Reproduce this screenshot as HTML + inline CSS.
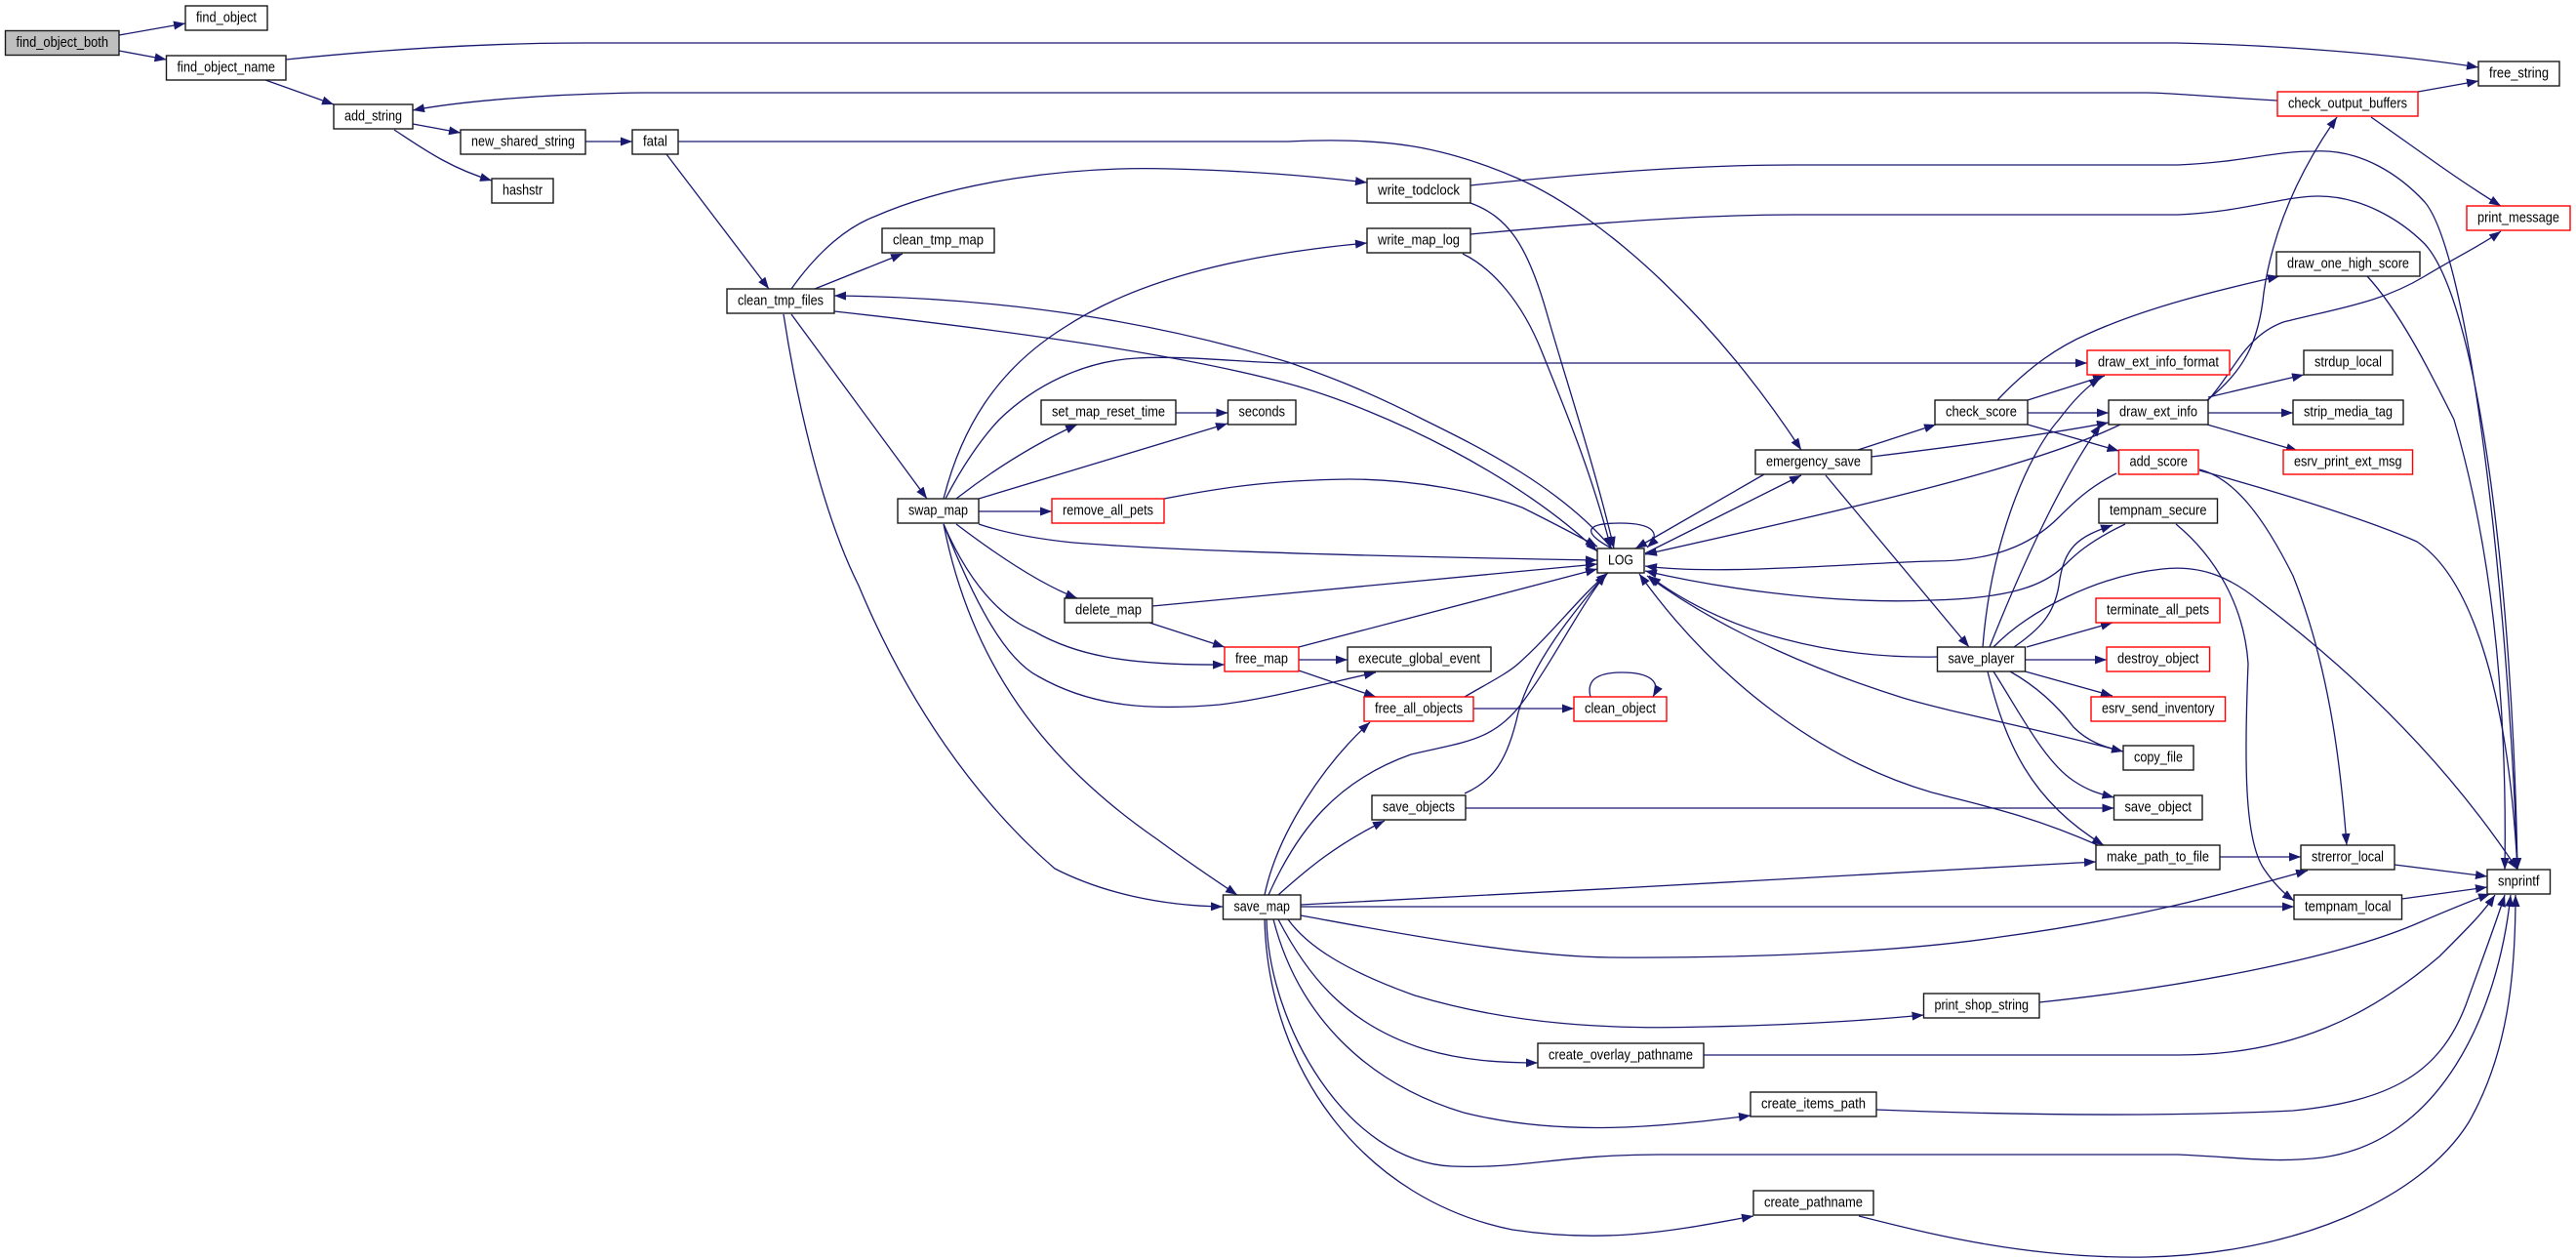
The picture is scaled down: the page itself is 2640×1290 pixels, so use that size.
<!DOCTYPE html>
<html>
<head>
<meta charset="utf-8">
<style>
html,body{margin:0;padding:0;background:#fff;}
svg{display:block;}
.n{fill:#fff;stroke:#1a1a1a;stroke-width:1.4;}
.r{fill:#fff;stroke:#ff0000;stroke-width:1.4;}
.g{fill:#bfbfbf;stroke:#1a1a1a;stroke-width:1.4;}
.t{font-family:"Liberation Sans",Arial,sans-serif;font-size:15px;fill:#000;text-anchor:middle;}
.e{fill:none;stroke:#191970;stroke-width:1.3;}
</style>
</head>
<body>
<svg width="2640" height="1290" viewBox="0 0 2640 1290" xmlns="http://www.w3.org/2000/svg">
<defs>
<marker id="a" markerUnits="userSpaceOnUse" markerWidth="13" markerHeight="10" refX="12" refY="4.5" orient="auto">
<path d="M0,0 L12,4.5 L0,9 z" fill="#191970"/>
</marker>
</defs>
<rect x="0" y="0" width="2640" height="1290" fill="#fff"/>

<g class="e" marker-end="url(#a)">
<path d="M122,36 L190,24"/>
<path d="M122,52 L170.5,61"/>
<path d="M293,61 C400,50 500,44 600,44 L2230,44 C2330,46 2450,55 2540,69"/>
<path d="M2334,103 C2250,98 2220,95 2200,95 L660,95 C560,96 470,104 423,113"/>
<path d="M2478,94 L2540,83"/>
<path d="M2430,120 C2480,155 2520,185 2563,211"/>
<path d="M272,82 L342,107"/>
<path d="M423,127 L472,136"/>
<path d="M404,133 C430,150 460,172 504,185"/>
<path d="M600,145 L648,145"/>
<path d="M695,145 L1320,145 C1420,140 1480,150 1556,183 C1650,225 1760,330 1846,461"/>
<path d="M683,158 L788,296"/>
<path d="M835,296 L925,260"/>
<path d="M811,296 C840,255 870,232 896,222 C980,185 1100,170 1200,173 C1280,175 1340,180 1401,187"/>
<path d="M1507,190 C1650,175 1750,169 1838,169 L2232,169 C2300,166 2330,155 2371,155 C2420,152 2460,180 2485,207 C2530,260 2570,600 2580,891"/>
<path d="M1507,240 C1650,227 1750,220 1838,220 L2232,220 C2300,217 2340,201 2376,201 C2420,201 2460,225 2485,250 C2540,310 2575,600 2580,891"/>
<path d="M1507,208 C1545,222 1565,250 1585,320 C1605,390 1635,480 1654,562"/>
<path d="M1499,260 C1530,275 1560,310 1580,360 C1600,410 1630,480 1651,562"/>
<path d="M1652,562 C1600,500 1520,460 1459,430 C1400,400 1360,385 1320,371 C1200,335 1050,305 855,303"/>
<path d="M855,319 C1000,335 1200,360 1320,393 C1420,420 1560,490 1637,565"/>
<path d="M967,511 C985,440 1020,380 1090,336 C1160,290 1260,262 1401,249"/>
<path d="M969,511 C985,480 1005,450 1024,430 C1060,395 1110,370 1165,367 C1220,364 1280,372 1320,372 L2139,372"/>
<path d="M980,511 C1020,480 1060,455 1104,435"/>
<path d="M1003,511 L1258,434"/>
<path d="M1205,423 L1258.5,423"/>
<path d="M1003,524 L1078,524"/>
<path d="M1193,511 C1250,500 1300,492 1383,491 C1450,491 1520,505 1560,520 C1590,535 1615,548 1637,560"/>
<path d="M1003,537 C1030,546 1060,552 1100,556 C1200,564 1400,570 1637,574"/>
<path d="M980,537 C1030,575 1070,600 1104,613"/>
<path d="M1181,621 L1637,578"/>
<path d="M1178,638 L1255,663"/>
<path d="M967,537 C990,590 1020,630 1060,647 C1100,670 1150,682 1255,681"/>
<path d="M967,537 C1000,620 1030,675 1064,693 C1120,725 1180,728 1250,722 C1300,716 1360,700 1410,689"/>
<path d="M967,537 C995,680 1070,780 1186,860 C1220,885 1250,905 1268,917"/>
<path d="M811,322 L950,511"/>
<path d="M803,322 C815,400 840,520 880,600 C930,720 1000,820 1081,890 C1130,915 1190,928 1253,929"/>
<path d="M1331,676 L1381,676"/>
<path d="M1331,687 L1410,714"/>
<path d="M1331,663 L1637,583"/>
<path d="M1510,726 L1613,726"/>
<path d="M1630,714 C1625,695 1640,689 1662,689 C1690,689 1703,698 1694,714"/>
<path d="M1501,714 C1525,700 1545,690 1556,680 C1590,650 1620,610 1648,587"/>
<path d="M1502,828 L2166.5,828"/>
<path d="M1501,813 C1530,800 1545,780 1556,730 C1570,680 1610,630 1646,588"/>
<path d="M1310,917 C1340,890 1370,865 1419,841"/>
<path d="M1300,917 C1330,850 1370,800 1446,773 C1500,760 1530,760 1560,720 C1590,680 1620,620 1646,588"/>
<path d="M1296,917 C1310,850 1360,780 1404,740"/>
<path d="M1808,486 L1676,562"/>
<path d="M1686,567 L1846,487"/>
<path d="M1904,461 L1984,435"/>
<path d="M1918,468 C2000,458 2100,445 2161,433"/>
<path d="M2173,435 C2080,480 1900,520 1686,568"/>
<path d="M1871,487 L2018,663"/>
<path d="M2047,410 C2080,375 2110,355 2140,342 C2200,315 2270,298 2336,283"/>
<path d="M2078,410 L2157,385"/>
<path d="M2078,423 L2161,423"/>
<path d="M2078,435 L2171.5,462"/>
<path d="M2262,410 C2300,380 2315,350 2320,300 C2330,230 2360,170 2395,120"/>
<path d="M2263,410 C2290,380 2300,345 2340,330 C2400,315 2440,310 2485,283 C2520,262 2545,250 2563,237"/>
<path d="M2263,407 L2361,384"/>
<path d="M2263,423 L2350,423"/>
<path d="M2262,435 L2355,462"/>
<path d="M2426,283 C2460,320 2490,380 2515,430 C2550,550 2570,700 2567,891"/>
<path d="M2032,663 C2040,560 2075,470 2110,430 C2125,410 2140,395 2153,387"/>
<path d="M2039,663 C2080,560 2120,480 2153,435"/>
<path d="M2064,663 C2090,645 2105,630 2110,600 C2115,560 2130,550 2165,538"/>
<path d="M2178,537 C2140,555 2125,570 2115,580 C2095,600 2060,613 1980,615 C1870,620 1750,600 1686,585"/>
<path d="M2169,485 C2140,500 2125,515 2110,530 C2080,560 2040,575 1980,575 C1900,577 1760,590 1686,580"/>
<path d="M1985.5,673 C1880,675 1770,650 1690,590"/>
<path d="M2176,770 C2080,745 2000,730 1950,715 C1870,690 1770,650 1688,590"/>
<path d="M2150,866 C2080,835 2030,825 1980,812 C1870,780 1760,700 1680,588"/>
<path d="M2077,663 L2165,638"/>
<path d="M2075.5,676 L2159,676"/>
<path d="M2075.5,688 L2165,713"/>
<path d="M2060,688 C2090,705 2110,725 2125,745 C2140,760 2155,765 2176,770"/>
<path d="M2043,688 C2070,730 2095,780 2125,800 C2140,810 2150,813 2166.5,817"/>
<path d="M2037,688 C2055,760 2080,820 2156,866"/>
<path d="M2043,663 C2080,625 2150,590 2216,583 C2260,578 2290,595 2317,617 C2400,680 2500,770 2580,891"/>
<path d="M2254,481 C2290,490 2320,530 2350,590 C2390,690 2400,800 2405,866"/>
<path d="M2254,482 C2320,500 2420,530 2477,555 C2530,590 2570,700 2580,891"/>
<path d="M2230,537 C2270,570 2300,620 2304,680 C2300,780 2300,860 2320,890 C2330,905 2340,915 2351,923"/>
<path d="M1333,927 C1600,915 1900,895 2148,883"/>
<path d="M2275,878 L2358,878"/>
<path d="M2454,886 L2549,898"/>
<path d="M2461.5,921 L2549,909"/>
<path d="M1333,929 L2351,929"/>
<path d="M1333,938 C1400,950 1550,980 1650,981 C1800,982 1950,975 2050,960 C2200,940 2300,910 2365,892"/>
<path d="M1320,942 C1340,970 1380,995 1450,1020 C1550,1050 1650,1055 1750,1052 C1850,1050 1920,1045 1971.5,1040"/>
<path d="M2090,1027 C2250,1010 2400,980 2480,945 C2520,928 2540,920 2552,916"/>
<path d="M1310,942 C1340,1000 1380,1050 1460,1075 C1500,1087 1540,1089 1576,1089"/>
<path d="M1746,1081 L2232,1081 C2350,1081 2430,1040 2500,980 C2530,950 2545,935 2557,917"/>
<path d="M1305,942 C1330,1040 1400,1110 1500,1140 C1600,1165 1700,1155 1794,1143"/>
<path d="M1923,1137 C2050,1142 2200,1145 2350,1138 C2450,1128 2500,1100 2527,1030 C2545,980 2560,940 2567,917"/>
<path d="M1298,942 C1300,1050 1380,1190 1488,1195 C1560,1198 1600,1183 1700,1183 L2232,1183 C2300,1186 2330,1192 2380,1186 C2500,1170 2560,1040 2573,917"/>
<path d="M1296,942 C1300,1100 1400,1230 1550,1260 C1650,1275 1720,1260 1797,1246"/>
<path d="M1905,1246 C1980,1265 2080,1290 2200,1288 C2350,1285 2480,1230 2530,1150 C2570,1080 2578,1000 2578,917"/>
<path d="M1652,562 C1620,545 1625,536 1660,536 C1697,536 1702,548 1688,561"/>
</g>

<g>
<rect class="g" x="5.5" y="31.5" width="116.5" height="25"/><text class="t" x="63.75" y="47.8" textLength="94.5" lengthAdjust="spacingAndGlyphs">find_object_both</text>
<rect class="n" x="190" y="6" width="84" height="25"/><text class="t" x="232" y="22.3" textLength="62" lengthAdjust="spacingAndGlyphs">find_object</text>
<rect class="n" x="170.5" y="57" width="122.5" height="25"/><text class="t" x="231.75" y="73.3" textLength="100.5" lengthAdjust="spacingAndGlyphs">find_object_name</text>
<rect class="n" x="342" y="107" width="81" height="25"/><text class="t" x="382.5" y="123.3" textLength="59" lengthAdjust="spacingAndGlyphs">add_string</text>
<rect class="n" x="472" y="133" width="128" height="25"/><text class="t" x="536" y="149.3" textLength="106" lengthAdjust="spacingAndGlyphs">new_shared_string</text>
<rect class="n" x="504" y="183" width="63" height="25"/><text class="t" x="535.5" y="199.3" textLength="41" lengthAdjust="spacingAndGlyphs">hashstr</text>
<rect class="n" x="648" y="133" width="47" height="25"/><text class="t" x="671.5" y="149.3" textLength="25" lengthAdjust="spacingAndGlyphs">fatal</text>
<rect class="n" x="2540" y="63" width="83" height="25"/><text class="t" x="2581.5" y="79.3" textLength="61" lengthAdjust="spacingAndGlyphs">free_string</text>
<rect class="r" x="2334" y="94" width="144" height="25"/><text class="t" x="2406" y="110.3" textLength="122" lengthAdjust="spacingAndGlyphs">check_output_buffers</text>
<rect class="r" x="2528" y="211" width="106" height="25"/><text class="t" x="2581" y="227.3" textLength="84" lengthAdjust="spacingAndGlyphs">print_message</text>
<rect class="n" x="745" y="296" width="110" height="25"/><text class="t" x="800" y="312.3" textLength="88" lengthAdjust="spacingAndGlyphs">clean_tmp_files</text>
<rect class="n" x="904" y="234" width="115" height="25"/><text class="t" x="961.5" y="250.3" textLength="93" lengthAdjust="spacingAndGlyphs">clean_tmp_map</text>
<rect class="n" x="1401" y="183" width="106" height="25"/><text class="t" x="1454" y="199.3" textLength="84" lengthAdjust="spacingAndGlyphs">write_todclock</text>
<rect class="n" x="1401" y="234" width="106" height="25"/><text class="t" x="1454" y="250.3" textLength="84" lengthAdjust="spacingAndGlyphs">write_map_log</text>
<rect class="n" x="2333" y="258" width="147" height="25"/><text class="t" x="2406.5" y="274.3" textLength="125" lengthAdjust="spacingAndGlyphs">draw_one_high_score</text>
<rect class="r" x="2139" y="359" width="146" height="25"/><text class="t" x="2212" y="375.3" textLength="124" lengthAdjust="spacingAndGlyphs">draw_ext_info_format</text>
<rect class="n" x="2361" y="359" width="91" height="25"/><text class="t" x="2406.5" y="375.3" textLength="69" lengthAdjust="spacingAndGlyphs">strdup_local</text>
<rect class="n" x="1067" y="410" width="138" height="25"/><text class="t" x="1136" y="426.3" textLength="116" lengthAdjust="spacingAndGlyphs">set_map_reset_time</text>
<rect class="n" x="1258.5" y="410" width="69.5" height="25"/><text class="t" x="1293.25" y="426.3" textLength="47.5" lengthAdjust="spacingAndGlyphs">seconds</text>
<rect class="n" x="1983" y="410" width="95" height="25"/><text class="t" x="2030.5" y="426.3" textLength="73" lengthAdjust="spacingAndGlyphs">check_score</text>
<rect class="n" x="2161" y="410" width="102" height="25"/><text class="t" x="2212" y="426.3" textLength="80" lengthAdjust="spacingAndGlyphs">draw_ext_info</text>
<rect class="n" x="2350" y="410" width="113" height="25"/><text class="t" x="2406.5" y="426.3" textLength="91" lengthAdjust="spacingAndGlyphs">strip_media_tag</text>
<rect class="n" x="1799" y="461" width="119" height="25"/><text class="t" x="1858.5" y="477.3" textLength="97" lengthAdjust="spacingAndGlyphs">emergency_save</text>
<rect class="r" x="2171.5" y="461" width="81.5" height="25"/><text class="t" x="2212.25" y="477.3" textLength="59.5" lengthAdjust="spacingAndGlyphs">add_score</text>
<rect class="r" x="2340" y="461" width="132.5" height="25"/><text class="t" x="2406.25" y="477.3" textLength="110.5" lengthAdjust="spacingAndGlyphs">esrv_print_ext_msg</text>
<rect class="n" x="920" y="511" width="83" height="25"/><text class="t" x="961.5" y="527.3" textLength="61" lengthAdjust="spacingAndGlyphs">swap_map</text>
<rect class="r" x="1078" y="511" width="115" height="25"/><text class="t" x="1135.5" y="527.3" textLength="93" lengthAdjust="spacingAndGlyphs">remove_all_pets</text>
<rect class="n" x="2151" y="511" width="121.5" height="25"/><text class="t" x="2211.75" y="527.3" textLength="99.5" lengthAdjust="spacingAndGlyphs">tempnam_secure</text>
<rect class="n" x="1637" y="562" width="48" height="25"/><text class="t" x="1661" y="578.3" textLength="26" lengthAdjust="spacingAndGlyphs">LOG</text>
<rect class="n" x="1091" y="613" width="90" height="25"/><text class="t" x="1136" y="629.3" textLength="68" lengthAdjust="spacingAndGlyphs">delete_map</text>
<rect class="r" x="2148" y="613" width="127" height="25"/><text class="t" x="2211.5" y="629.3" textLength="105" lengthAdjust="spacingAndGlyphs">terminate_all_pets</text>
<rect class="r" x="1255" y="663" width="76" height="25"/><text class="t" x="1293" y="679.3" textLength="54" lengthAdjust="spacingAndGlyphs">free_map</text>
<rect class="n" x="1381" y="663" width="147" height="25"/><text class="t" x="1454.5" y="679.3" textLength="125" lengthAdjust="spacingAndGlyphs">execute_global_event</text>
<rect class="n" x="1985.5" y="663" width="90" height="25"/><text class="t" x="2030.5" y="679.3" textLength="68" lengthAdjust="spacingAndGlyphs">save_player</text>
<rect class="r" x="2159" y="663" width="105.5" height="25"/><text class="t" x="2211.75" y="679.3" textLength="83.5" lengthAdjust="spacingAndGlyphs">destroy_object</text>
<rect class="r" x="1398" y="714" width="112" height="25"/><text class="t" x="1454" y="730.3" textLength="90" lengthAdjust="spacingAndGlyphs">free_all_objects</text>
<rect class="r" x="1613" y="714" width="95" height="25"/><text class="t" x="1660.5" y="730.3" textLength="73" lengthAdjust="spacingAndGlyphs">clean_object</text>
<rect class="r" x="2143" y="714" width="137.5" height="25"/><text class="t" x="2211.75" y="730.3" textLength="115.5" lengthAdjust="spacingAndGlyphs">esrv_send_inventory</text>
<rect class="n" x="2176" y="764" width="72" height="25"/><text class="t" x="2212" y="780.3" textLength="50" lengthAdjust="spacingAndGlyphs">copy_file</text>
<rect class="n" x="1406" y="815" width="96" height="25"/><text class="t" x="1454" y="831.3" textLength="74" lengthAdjust="spacingAndGlyphs">save_objects</text>
<rect class="n" x="2166.5" y="815" width="90.5" height="25"/><text class="t" x="2211.75" y="831.3" textLength="68.5" lengthAdjust="spacingAndGlyphs">save_object</text>
<rect class="n" x="2148" y="866" width="127" height="25"/><text class="t" x="2211.5" y="882.3" textLength="105" lengthAdjust="spacingAndGlyphs">make_path_to_file</text>
<rect class="n" x="2358" y="866" width="96" height="25"/><text class="t" x="2406" y="882.3" textLength="74" lengthAdjust="spacingAndGlyphs">strerror_local</text>
<rect class="n" x="2549" y="891" width="64.5" height="25"/><text class="t" x="2581.25" y="907.3" textLength="42.5" lengthAdjust="spacingAndGlyphs">snprintf</text>
<rect class="n" x="1253.5" y="917" width="79.5" height="25"/><text class="t" x="1293.25" y="933.3" textLength="57.5" lengthAdjust="spacingAndGlyphs">save_map</text>
<rect class="n" x="2351" y="917" width="110.5" height="25"/><text class="t" x="2406.25" y="933.3" textLength="88.5" lengthAdjust="spacingAndGlyphs">tempnam_local</text>
<rect class="n" x="1971.5" y="1018" width="118.5" height="25"/><text class="t" x="2030.75" y="1034.3" textLength="96.5" lengthAdjust="spacingAndGlyphs">print_shop_string</text>
<rect class="n" x="1576" y="1069" width="170" height="25"/><text class="t" x="1661" y="1085.3" textLength="148" lengthAdjust="spacingAndGlyphs">create_overlay_pathname</text>
<rect class="n" x="1794" y="1119" width="129" height="25"/><text class="t" x="1858.5" y="1135.3" textLength="107" lengthAdjust="spacingAndGlyphs">create_items_path</text>
<rect class="n" x="1797" y="1220" width="123" height="25"/><text class="t" x="1858.5" y="1236.3" textLength="101" lengthAdjust="spacingAndGlyphs">create_pathname</text>
</g>
</svg>
</body>
</html>
